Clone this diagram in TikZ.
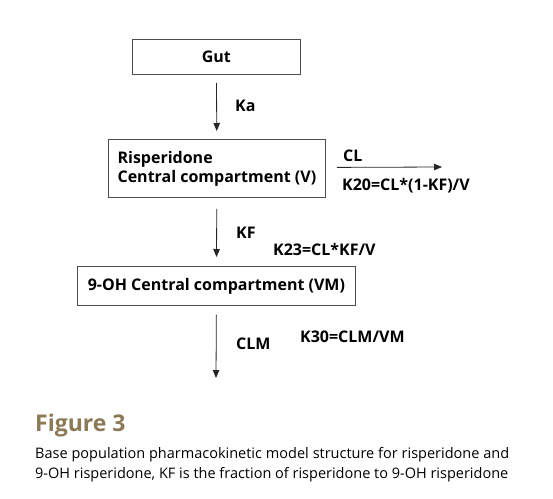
\documentclass[tikz,border=0pt]{standalone}
\usepackage{fontspec}
\setmainfont{Open Sans}
\usepackage{xcolor}
\usetikzlibrary{arrows.meta,positioning,calc}
\definecolor{figbrown}{HTML}{8C7A57}
\definecolor{boxgray}{HTML}{4D4D4D}

\begin{document}
\begin{tikzpicture}
		[x=1pt,y=-1pt,
		comp/.style={draw=boxgray,line width=0.8pt,font=\bfseries\fontsize{16}{18}\selectfont,
			inner sep=0pt,anchor=north west},
		lab/.style={font=\bfseries\fontsize{16}{18}\selectfont,inner sep=0pt,anchor=west},
		flow/.style={-{Triangle[width=6.5pt,length=8pt]},line width=0.8pt,draw=black!85}]
		\useasboundingbox (0,0) rectangle (553,498);
		% compartments
		\node[comp,minimum width=168pt,minimum height=35pt] (gut) at (132,39) {Gut};
		\node[comp,minimum width=217pt,minimum height=58pt,align=left] (risp) at (108,139)
			{Risperidone\\[1pt]Central compartment (V)};
		\node[comp,minimum width=278pt,minimum height=39pt] (met) at (77,266) {9-OH Central compartment (VM)};
		% free ends
		\coordinate (clout) at (442,167);
		\coordinate (metout) at (216,378);
		% rate labels
		\node[lab] (ka) at (235,106) {Ka};
		\node[lab] (cl) at (343,156) {CL};
		\node[lab] (k20) at (342,186) {K20=CL*(1-KF)/V};
		\node[lab] (kf) at (236,233) {KF};
		\node[lab] (k23) at (273,249) {K23=CL*KF/V};
		\node[lab] (clm) at (236,344) {CLM};
		\node[lab] (k30) at (300,337) {K30=CLM/VM};
		% connectors
		\draw[flow,shorten <=8pt,shorten >=8pt] (gut) -- (risp);
		\draw[flow,shorten <=11pt,shorten >=9pt] (risp) -- (met);
		\draw[flow,shorten <=9pt] (met.south) -- (metout);
		\draw[flow] ([xshift=11pt,yshift=1pt]risp.east) -- (clout);
		% caption
		\node[inner sep=0pt,anchor=west,text=figbrown,font=\bfseries\fontsize{23}{25}\selectfont]
			(fig) at (35,426) {Figure 3};
		\node[inner sep=0pt,anchor=north west,text width=474pt,align=justify,
			font=\fontsize{14.5}{20}\selectfont] (cap) at (35,447)
			{Base population pharmacokinetic model structure for risperidone and\linebreak
			9-OH risperidone, KF is the fraction of risperidone to 9-OH risperidone};
		\end{tikzpicture}
\end{document}
